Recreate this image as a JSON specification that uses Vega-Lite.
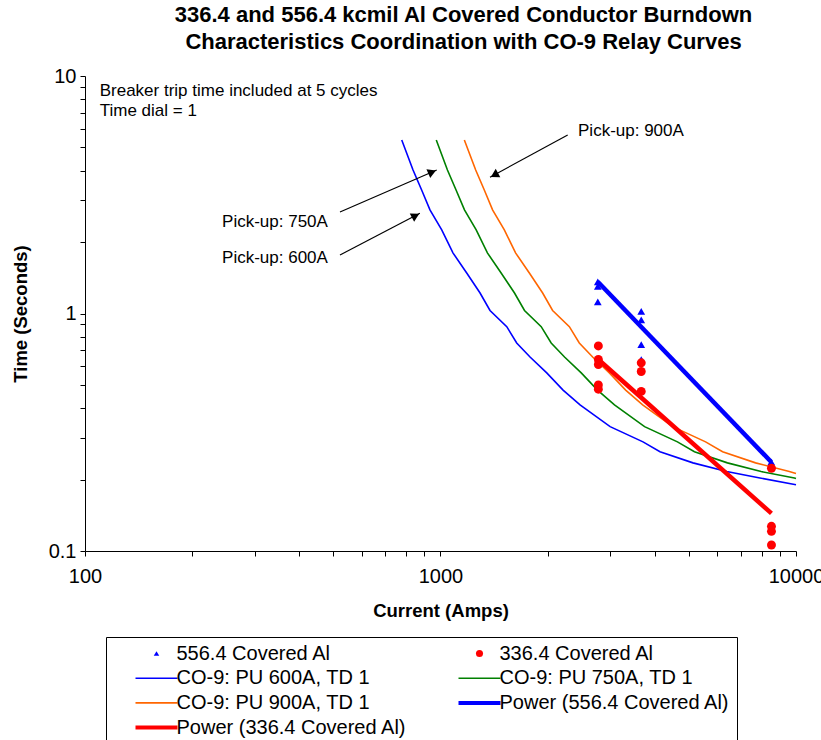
{
  "$schema": "https://vega.github.io/schema/vega-lite/v6.json",
  "autosize": {"type": "none"},
  "padding": {"left": 85, "top": 76, "right": 25, "bottom": 189},
  "width": 711,
  "height": 475,
  "background": "white",
  "config": {
    "font": "Liberation Sans",
    "view": {"stroke": null},
    "axis": {"domainColor": "black", "tickColor": "black", "labelColor": "black", "titleColor": "black", "grid": false, "labelFont": "Liberation Sans", "titleFont": "Liberation Sans"}
  },
  "title": {
    "text": ["336.4 and 556.4 kcmil Al Covered Conductor Burndown", "Characteristics Coordination with CO-9 Relay Curves"],
    "fontSize": 22, "fontWeight": "bold", "lineHeight": 27, "anchor": "middle", "offset": 12, "dx": 23, "color": "black", "font": "Liberation Sans"
  },
  "datasets": {
    "curves": [
      {"series": "CO-9: PU 600A, TD 1", "current": 778, "time": 5.38},
      {"series": "CO-9: PU 600A, TD 1", "current": 837, "time": 4.02},
      {"series": "CO-9: PU 600A, TD 1", "current": 885, "time": 3.31},
      {"series": "CO-9: PU 600A, TD 1", "current": 934, "time": 2.73},
      {"series": "CO-9: PU 600A, TD 1", "current": 1008, "time": 2.25},
      {"series": "CO-9: PU 600A, TD 1", "current": 1084, "time": 1.80},
      {"series": "CO-9: PU 600A, TD 1", "current": 1185, "time": 1.48},
      {"series": "CO-9: PU 600A, TD 1", "current": 1292, "time": 1.22},
      {"series": "CO-9: PU 600A, TD 1", "current": 1378, "time": 1.03},
      {"series": "CO-9: PU 600A, TD 1", "current": 1536, "time": 0.880},
      {"series": "CO-9: PU 600A, TD 1", "current": 1638, "time": 0.751},
      {"series": "CO-9: PU 600A, TD 1", "current": 1786, "time": 0.656},
      {"series": "CO-9: PU 600A, TD 1", "current": 1990, "time": 0.562},
      {"series": "CO-9: PU 600A, TD 1", "current": 2212, "time": 0.476},
      {"series": "CO-9: PU 600A, TD 1", "current": 2469, "time": 0.412},
      {"series": "CO-9: PU 600A, TD 1", "current": 3000, "time": 0.334},
      {"series": "CO-9: PU 600A, TD 1", "current": 3712, "time": 0.288},
      {"series": "CO-9: PU 600A, TD 1", "current": 4144, "time": 0.262},
      {"series": "CO-9: PU 600A, TD 1", "current": 5131, "time": 0.235},
      {"series": "CO-9: PU 600A, TD 1", "current": 6383, "time": 0.216},
      {"series": "CO-9: PU 600A, TD 1", "current": 7917, "time": 0.203},
      {"series": "CO-9: PU 600A, TD 1", "current": 10000, "time": 0.190},
      {"series": "CO-9: PU 750A, TD 1", "current": 973, "time": 5.38},
      {"series": "CO-9: PU 750A, TD 1", "current": 1046, "time": 4.02},
      {"series": "CO-9: PU 750A, TD 1", "current": 1106, "time": 3.31},
      {"series": "CO-9: PU 750A, TD 1", "current": 1168, "time": 2.73},
      {"series": "CO-9: PU 750A, TD 1", "current": 1260, "time": 2.25},
      {"series": "CO-9: PU 750A, TD 1", "current": 1355, "time": 1.80},
      {"series": "CO-9: PU 750A, TD 1", "current": 1481, "time": 1.48},
      {"series": "CO-9: PU 750A, TD 1", "current": 1615, "time": 1.22},
      {"series": "CO-9: PU 750A, TD 1", "current": 1723, "time": 1.03},
      {"series": "CO-9: PU 750A, TD 1", "current": 1920, "time": 0.880},
      {"series": "CO-9: PU 750A, TD 1", "current": 2048, "time": 0.751},
      {"series": "CO-9: PU 750A, TD 1", "current": 2233, "time": 0.656},
      {"series": "CO-9: PU 750A, TD 1", "current": 2488, "time": 0.562},
      {"series": "CO-9: PU 750A, TD 1", "current": 2765, "time": 0.476},
      {"series": "CO-9: PU 750A, TD 1", "current": 3086, "time": 0.412},
      {"series": "CO-9: PU 750A, TD 1", "current": 3750, "time": 0.334},
      {"series": "CO-9: PU 750A, TD 1", "current": 4640, "time": 0.288},
      {"series": "CO-9: PU 750A, TD 1", "current": 5180, "time": 0.262},
      {"series": "CO-9: PU 750A, TD 1", "current": 6414, "time": 0.235},
      {"series": "CO-9: PU 750A, TD 1", "current": 7979, "time": 0.216},
      {"series": "CO-9: PU 750A, TD 1", "current": 9896, "time": 0.203},
      {"series": "CO-9: PU 750A, TD 1", "current": 10000, "time": 0.202},
      {"series": "CO-9: PU 900A, TD 1", "current": 1167, "time": 5.38},
      {"series": "CO-9: PU 900A, TD 1", "current": 1256, "time": 4.02},
      {"series": "CO-9: PU 900A, TD 1", "current": 1328, "time": 3.31},
      {"series": "CO-9: PU 900A, TD 1", "current": 1401, "time": 2.73},
      {"series": "CO-9: PU 900A, TD 1", "current": 1512, "time": 2.25},
      {"series": "CO-9: PU 900A, TD 1", "current": 1626, "time": 1.80},
      {"series": "CO-9: PU 900A, TD 1", "current": 1778, "time": 1.48},
      {"series": "CO-9: PU 900A, TD 1", "current": 1938, "time": 1.22},
      {"series": "CO-9: PU 900A, TD 1", "current": 2067, "time": 1.03},
      {"series": "CO-9: PU 900A, TD 1", "current": 2304, "time": 0.880},
      {"series": "CO-9: PU 900A, TD 1", "current": 2457, "time": 0.751},
      {"series": "CO-9: PU 900A, TD 1", "current": 2679, "time": 0.656},
      {"series": "CO-9: PU 900A, TD 1", "current": 2985, "time": 0.562},
      {"series": "CO-9: PU 900A, TD 1", "current": 3318, "time": 0.476},
      {"series": "CO-9: PU 900A, TD 1", "current": 3704, "time": 0.412},
      {"series": "CO-9: PU 900A, TD 1", "current": 4500, "time": 0.334},
      {"series": "CO-9: PU 900A, TD 1", "current": 5568, "time": 0.288},
      {"series": "CO-9: PU 900A, TD 1", "current": 6216, "time": 0.262},
      {"series": "CO-9: PU 900A, TD 1", "current": 7697, "time": 0.235},
      {"series": "CO-9: PU 900A, TD 1", "current": 9575, "time": 0.216},
      {"series": "CO-9: PU 900A, TD 1", "current": 10000, "time": 0.212}
    ],
    "power": [
      {"series": "Power (556.4 Covered Al)", "current": 2770, "time": 1.36},
      {"series": "Power (556.4 Covered Al)", "current": 8520, "time": 0.237},
      {"series": "Power (336.4 Covered Al)", "current": 2780, "time": 0.64},
      {"series": "Power (336.4 Covered Al)", "current": 8530, "time": 0.144}
    ],
    "tri": [
      {"series": "556.4 Covered Al", "current": 2770, "time": 1.36},
      {"series": "556.4 Covered Al", "current": 2770, "time": 1.30},
      {"series": "556.4 Covered Al", "current": 2770, "time": 1.12},
      {"series": "556.4 Covered Al", "current": 3670, "time": 1.02},
      {"series": "556.4 Covered Al", "current": 3670, "time": 0.94},
      {"series": "556.4 Covered Al", "current": 3670, "time": 0.74},
      {"series": "556.4 Covered Al", "current": 3670, "time": 0.64},
      {"series": "556.4 Covered Al", "current": 8520, "time": 0.237}
    ],
    "circ": [
      {"series": "336.4 Covered Al", "current": 2780, "time": 0.73},
      {"series": "336.4 Covered Al", "current": 2780, "time": 0.64},
      {"series": "336.4 Covered Al", "current": 2780, "time": 0.61},
      {"series": "336.4 Covered Al", "current": 2780, "time": 0.50},
      {"series": "336.4 Covered Al", "current": 2780, "time": 0.48},
      {"series": "336.4 Covered Al", "current": 3670, "time": 0.62},
      {"series": "336.4 Covered Al", "current": 3670, "time": 0.57},
      {"series": "336.4 Covered Al", "current": 3670, "time": 0.47},
      {"series": "336.4 Covered Al", "current": 8530, "time": 0.223},
      {"series": "336.4 Covered Al", "current": 8530, "time": 0.127},
      {"series": "336.4 Covered Al", "current": 8530, "time": 0.121},
      {"series": "336.4 Covered Al", "current": 8530, "time": 0.106}
    ],
    "arrows": [
      {"i1": 2279, "t1": 5.64, "i2": 1378, "t2": 3.75, "hi": 1418, "ht": 3.83, "angle": 241},
      {"i1": 521.5, "t1": 2.676, "i2": 976, "t2": 4.02, "hi": 947, "ht": 3.94, "angle": 66.5},
      {"i1": 521.5, "t1": 1.763, "i2": 875, "t2": 2.642, "hi": 851, "ht": 2.58, "angle": 62.5}
    ],
    "notes": [
      {"label": "Pick-up: 900A", "current": 2437, "time": 5.87},
      {"label": "Pick-up: 750A", "current": 243, "time": 2.43},
      {"label": "Pick-up: 600A", "current": 243, "time": 1.713},
      {"label": "Breaker trip time included at 5 cycles", "current": 110, "time": 8.65},
      {"label": "Time dial = 1", "current": 110, "time": 7.12}
    ]
  },
  "layer": [
    {
      "data": {"name": "curves"},
      "mark": {"type": "line", "strokeWidth": 1.6},
      "encoding": {
        "x": {"field": "current", "type": "quantitative",
          "scale": {"type": "log", "domain": [100, 10000], "nice": false},
          "axis": {"title": "Current (Amps)", "titleFontSize": 18.5, "titleFontWeight": "bold", "titlePadding": 15,
            "values": [100,200,300,400,500,600,700,800,900,1000,2000,3000,4000,5000,6000,7000,8000,9000,10000],
            "labelExpr": "(datum.value == 100 || datum.value == 1000 || datum.value == 10000) ? format(datum.value, 'd') : ''",
            "labelFontSize": 20, "tickSize": 5, "labelPadding": 10, "labelFlush": false, "labelOverlap": false}},
        "y": {"field": "time", "type": "quantitative",
          "scale": {"type": "log", "domain": [0.1, 10], "nice": false},
          "axis": {"title": "Time (Seconds)", "titleFontSize": 18.5, "titleFontWeight": "bold", "titlePadding": 18,
            "values": [0.1,0.2,0.3,0.4,0.5,0.6,0.7,0.8,0.9,1,2,3,4,5,6,7,8,9,10],
            "labelExpr": "datum.value == 0.1 ? '0.1' : datum.value == 1 ? '1' : datum.value == 10 ? '10' : ''",
            "labelFontSize": 20, "tickSize": 5, "labelPadding": 4, "labelOverlap": false}},
        "color": {"field": "series", "type": "nominal",
          "scale": {
            "domain": ["556.4 Covered Al", "336.4 Covered Al", "CO-9: PU 600A, TD 1", "CO-9: PU 750A, TD 1", "CO-9: PU 900A, TD 1", "Power (556.4 Covered Al)", "Power (336.4 Covered Al)"],
            "range": ["#0000FF", "#FF0000", "#0000FF", "#008000", "#FF6600", "#0000FF", "#FF0000"]},
          "legend": {
            "title": null, "orient": "none", "legendX": 21, "legendY": 561, "columns": 2, "direction": "horizontal",
            "strokeColor": "black", "fillColor": "white", "padding": 6.5, "rowPadding": 4.7, "columnPadding": 28,
            "labelFont": "Liberation Sans", "labelFontSize": 20, "labelColor": "black", "labelLimit": 400,
            "symbolSize": 100, "symbolOffset": 34, "labelOffset": 10,
            "encode": {"symbols": {"update": {
              "shape": {"signal": "datum.value === '556.4 Covered Al' ? 'triangle-up' : (datum.value === '336.4 Covered Al' ? 'circle' : 'M-4.2,0H4.2')"},
              "size": {"signal": "datum.value === '556.4 Covered Al' ? 30 : (datum.value === '336.4 Covered Al' ? 50 : 100)"},
              "strokeWidth": {"signal": "(datum.value === 'Power (556.4 Covered Al)' || datum.value === 'Power (336.4 Covered Al)') ? 4 : ((datum.value === '556.4 Covered Al' || datum.value === '336.4 Covered Al') ? 0 : 1.6)"},
              "fill": {"signal": "datum.value === '556.4 Covered Al' ? '#0000FF' : (datum.value === '336.4 Covered Al' ? '#FF0000' : 'transparent')"}
            }}}
          }}
      }
    },
    {
      "data": {"name": "tri"},
      "mark": {"type": "point", "shape": "triangle-up", "filled": true, "size": 60, "opacity": 1},
      "encoding": {
        "x": {"field": "current", "type": "quantitative"},
        "y": {"field": "time", "type": "quantitative"},
        "color": {"field": "series", "type": "nominal"}
      }
    },
    {
      "data": {"name": "power"},
      "mark": {"type": "line", "strokeWidth": 4.5},
      "encoding": {
        "x": {"field": "current", "type": "quantitative"},
        "y": {"field": "time", "type": "quantitative"},
        "color": {"field": "series", "type": "nominal"}
      }
    },
    {
      "data": {"name": "circ"},
      "mark": {"type": "point", "shape": "circle", "filled": true, "size": 80, "opacity": 1},
      "encoding": {
        "x": {"field": "current", "type": "quantitative"},
        "y": {"field": "time", "type": "quantitative"},
        "color": {"field": "series", "type": "nominal"}
      }
    },
    {
      "data": {"name": "arrows"},
      "mark": {"type": "rule", "color": "black", "strokeWidth": 1.2},
      "encoding": {
        "x": {"field": "i1", "type": "quantitative"},
        "y": {"field": "t1", "type": "quantitative"},
        "x2": {"field": "i2"},
        "y2": {"field": "t2"}
      }
    },
    {
      "data": {"name": "arrows"},
      "mark": {"type": "point", "shape": "triangle-up", "filled": true, "color": "black", "size": 90, "opacity": 1},
      "encoding": {
        "x": {"field": "hi", "type": "quantitative"},
        "y": {"field": "ht", "type": "quantitative"},
        "angle": {"field": "angle", "type": "quantitative", "scale": null}
      }
    },
    {
      "data": {"name": "notes"},
      "mark": {"type": "text", "align": "left", "baseline": "middle", "fontSize": 17, "color": "black", "font": "Liberation Sans"},
      "encoding": {
        "x": {"field": "current", "type": "quantitative"},
        "y": {"field": "time", "type": "quantitative"},
        "text": {"field": "label"}
      }
    }
  ]
}
